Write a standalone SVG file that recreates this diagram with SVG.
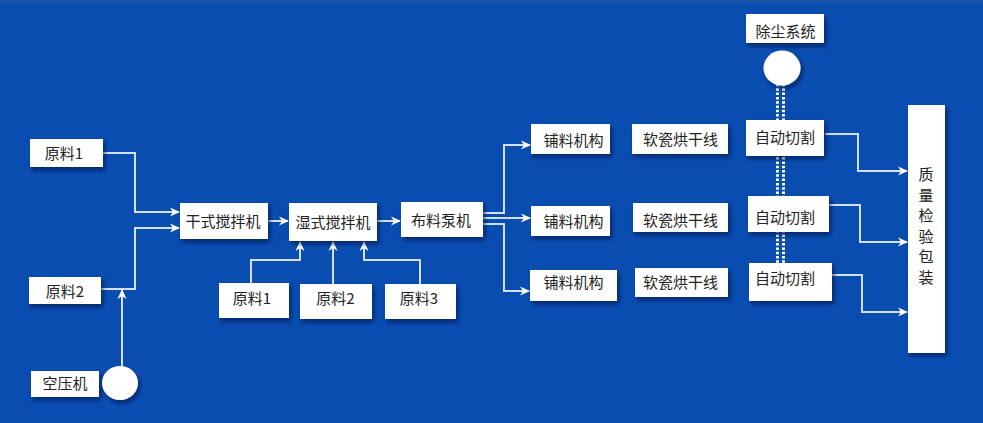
<svg xmlns="http://www.w3.org/2000/svg" width="983" height="423" viewBox="0 0 983 423">
<defs>
<filter id="sh" x="-20%" y="-20%" width="150%" height="160%">
<feDropShadow dx="2" dy="3" stdDeviation="2" flood-color="#001540" flood-opacity="0.65"/>
</filter>
<marker id="ar" viewBox="0 0 10 10" refX="9" refY="5" markerWidth="10" markerHeight="10" markerUnits="userSpaceOnUse" orient="auto">
<path d="M0,0.5 L10,5 L0,9.5 L3,5 Z" fill="#ffffff"/>
</marker>
<style>
.bx{fill:#ffffff;filter:url(#sh);}
.t{font-family:"Noto Sans CJK SC","Microsoft YaHei",sans-serif;font-size:15px;fill:#222222;text-anchor:middle;}
.c{fill:none;stroke:#d2e1f8;stroke-width:2;}
.a{marker-end:url(#ar);}
.dot{fill:none;stroke:#ffffff;stroke-width:3;stroke-dasharray:2.5 1.8;}
</style>
</defs>
<rect x="0" y="0" width="983" height="423" fill="#0a4db0"/>
<rect x="0" y="0" width="983" height="3" fill="#1a55a8"/>

<g id="dust-line">
<line class="dot" x1="777.5" y1="84" x2="777.5" y2="265"/>
<line class="dot" x1="783.5" y1="84" x2="783.5" y2="265"/>
</g>

<g id="connectors">
<polyline class="c a" points="103,153 135,153 135,212 179,212"/>
<polyline class="c a" points="101,289 135,289 135,228 179,228"/>
<polyline class="c a" points="122,366 122,290"/>
<polyline class="c a" points="268,221 288,221"/>
<polyline class="c a" points="377,221 400,221"/>
<polyline class="c a" points="251,283 251,260 300,260 300,242"/>
<polyline class="c a" points="333,284 333,242"/>
<polyline class="c a" points="420,284 420,260 364,260 364,242"/>
<polyline class="c a" points="483,213 504,213 504,145 530,145"/>
<polyline class="c a" points="483,218 530,218"/>
<polyline class="c a" points="483,224 504,224 504,291 529,291"/>
<polyline class="c a" points="825,134 858,134 858,171 907,171"/>
<polyline class="c a" points="829,205 860,205 860,242 907,242"/>
<polyline class="c a" points="832,275 862,275 862,312 907,312"/>
</g>

<g id="yl1-a"><rect class="bx" x="30" y="139" width="73" height="28"/><text class="t" x="64" y="158.5">原料1</text></g>
<g id="yl2-a"><rect class="bx" x="29" y="277" width="72" height="27"/><text class="t" x="65" y="296.5">原料2</text></g>
<g id="kyj"><rect class="bx" x="31" y="371" width="68" height="26"/><text class="t" x="65" y="388.5">空压机</text>
<ellipse cx="120" cy="383" rx="18" ry="17" fill="#ffffff" filter="url(#sh)"/></g>
<g id="gs"><rect class="bx" x="180" y="203" width="88" height="36"/><text class="t" x="223" y="226.5">干式搅拌机</text></g>
<g id="ss"><rect class="bx" x="289" y="203" width="88" height="38"/><text class="t" x="333" y="227.5">湿式搅拌机</text></g>
<g id="blbj"><rect class="bx" x="401" y="202" width="82" height="35"/><text class="t" x="441" y="225.5">布料泵机</text></g>
<g id="yl1-b"><rect class="bx" x="219" y="283" width="70" height="35"/><text class="t" x="252" y="303.5">原料1</text></g>
<g id="yl2-b"><rect class="bx" x="300" y="284" width="72" height="35"/><text class="t" x="335.5" y="303.5">原料2</text></g>
<g id="yl3-b"><rect class="bx" x="385" y="284" width="71" height="35"/><text class="t" x="419" y="303.5">原料3</text></g>
<g id="pl1"><rect class="bx" x="531" y="124" width="79" height="30"/><text class="t" x="573.5" y="145.5">铺料机构</text></g>
<g id="pl2"><rect class="bx" x="531" y="206" width="79" height="30"/><text class="t" x="573.5" y="226.5">铺料机构</text></g>
<g id="pl3"><rect class="bx" x="530" y="270" width="87" height="31"/><text class="t" x="573.5" y="287.5">铺料机构</text></g>
<g id="hg1"><rect class="bx" x="632" y="124" width="96" height="30"/><text class="t" x="680.5" y="144.5">软瓷烘干线</text></g>
<g id="hg2"><rect class="bx" x="633" y="203" width="95" height="29"/><text class="t" x="680.5" y="225.5">软瓷烘干线</text></g>
<g id="hg3"><rect class="bx" x="635" y="268" width="93" height="29"/><text class="t" x="680.5" y="287.5">软瓷烘干线</text></g>
<g id="cc"><rect class="bx" x="746" y="14" width="78" height="29"/><text class="t" x="785.5" y="36.5">除尘系统</text>
<ellipse cx="782" cy="68" rx="18.5" ry="17.5" fill="#ffffff" filter="url(#sh)"/></g>
<g id="qg1"><rect class="bx" x="746" y="120" width="78" height="36"/><text class="t" x="785" y="142.5">自动切割</text></g>
<g id="qg2"><rect class="bx" x="748" y="196" width="81" height="36"/><text class="t" x="785" y="222.5">自动切割</text></g>
<g id="qg3"><rect class="bx" x="749" y="263" width="83" height="38"/><text class="t" x="785" y="283.5">自动切割</text></g>
<g id="zl"><rect class="bx" x="908" y="105" width="37" height="248"/>
<text class="t" x="926"><tspan x="926" y="180">质</tspan><tspan x="926" y="200.5">量</tspan><tspan x="926" y="221">检</tspan><tspan x="926" y="241.5">验</tspan><tspan x="926" y="262">包</tspan><tspan x="926" y="282.5">装</tspan></text></g>
</svg>
